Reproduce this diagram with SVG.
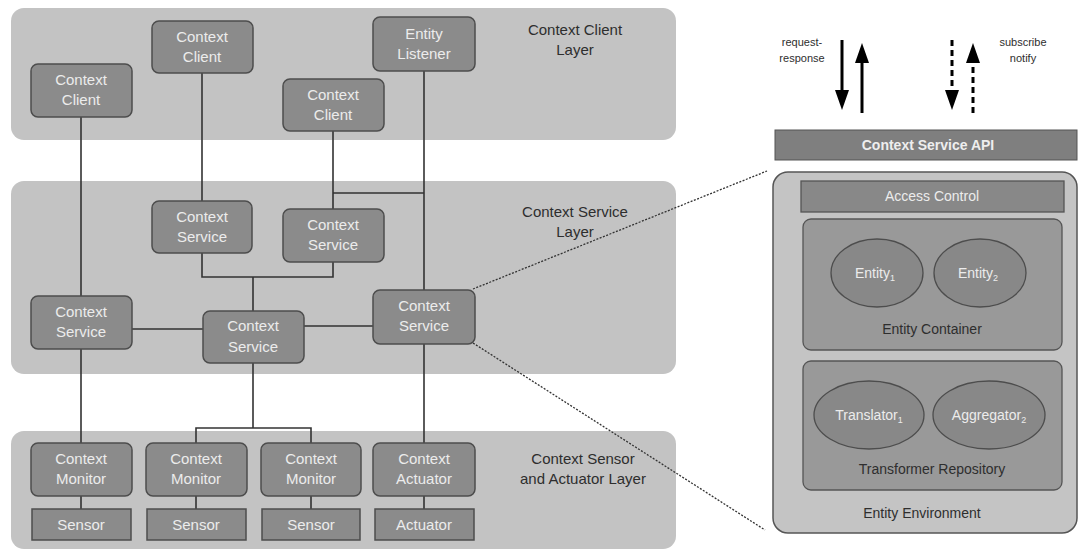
<svg xmlns="http://www.w3.org/2000/svg" width="1080" height="549" viewBox="0 0 1080 549">
<defs>
<style>
.layer{fill:#c3c3c3}
.node{fill:#8b8b8b;stroke:#4d4d4d;stroke-width:1.5}
.nt{font-family:"Liberation Sans",Arial,sans-serif;font-size:15px;fill:#ececec;text-anchor:middle}
.lt{font-family:"Liberation Sans",Arial,sans-serif;font-size:15px;fill:#2e2e2e;text-anchor:middle}
.st{font-family:"Liberation Sans",Arial,sans-serif;font-size:11px;fill:#2e2e2e;text-anchor:middle}
.conn{stroke:#333;stroke-width:1.6;fill:none}
.dot{stroke:#333;stroke-width:1.3;stroke-dasharray:2 1.5;fill:none}
.arr{stroke:#000;stroke-width:3;fill:none}
.arrd{stroke:#000;stroke-width:3;fill:none;stroke-dasharray:6 4}
.box{fill:#999;stroke:#555;stroke-width:1.3}
.ell{fill:#888;stroke:#4d4d4d;stroke-width:1.3}
</style>
<marker id="hd" viewBox="0 0 20 14" refX="0" refY="7" markerWidth="20" markerHeight="14" markerUnits="userSpaceOnUse" orient="auto"><path d="M0,0 L20,7 L0,14 Z" fill="#000"/></marker>
</defs>
<rect width="1080" height="549" fill="#fff"/>

<g id="layers">
<rect class="layer" x="11" y="8" width="665" height="132" rx="13"/>
<rect class="layer" x="11" y="181" width="665" height="193" rx="13"/>
<rect class="layer" x="11" y="431" width="665" height="118" rx="13"/>
<text class="lt" x="575" y="35">Context Client</text>
<text class="lt" x="575" y="55">Layer</text>
<text class="lt" x="575" y="217">Context Service</text>
<text class="lt" x="575" y="237">Layer</text>
<text class="lt" x="583" y="464">Context Sensor</text>
<text class="lt" x="583" y="484">and Actuator Layer</text>
</g>

<g id="connectors">
<path class="conn" d="M81,117 V296 M81,349 V443"/>
<path class="conn" d="M202,73 V201"/>
<path class="conn" d="M333,131 V209 M333,193 H424"/>
<path class="conn" d="M424,71 V290"/>
<path class="conn" d="M202,253 V277 H333 V262 M253,277 V311"/>
<path class="conn" d="M132,329 H203 M304,326 H373"/>
<path class="conn" d="M424,344 V443"/>
<path class="conn" d="M253,363 V428 M196,443 V428 H311 V443"/>
<path class="conn" d="M81,496 V509 M196,496 V509 M311,496 V509 M424,496 V509"/>
<path class="dot" d="M473,289 L767,171 M473,343 L765,530"/>
</g>

<g id="client1"><rect class="node" x="31" y="64" width="101" height="53" rx="7"/><text class="nt" x="81" y="85">Context</text><text class="nt" x="81" y="105">Client</text></g>
<g id="client2"><rect class="node" x="152" y="21" width="101" height="52" rx="7"/><text class="nt" x="202" y="42">Context</text><text class="nt" x="202" y="62">Client</text></g>
<g id="client3"><rect class="node" x="283" y="79" width="101" height="52" rx="7"/><text class="nt" x="333" y="100">Context</text><text class="nt" x="333" y="120">Client</text></g>
<g id="listener"><rect class="node" x="373" y="17" width="102" height="54" rx="7"/><text class="nt" x="424" y="39">Entity</text><text class="nt" x="424" y="59">Listener</text></g>

<g id="service1"><rect class="node" x="152" y="201" width="100" height="52" rx="7"/><text class="nt" x="202" y="222">Context</text><text class="nt" x="202" y="242">Service</text></g>
<g id="service2"><rect class="node" x="283" y="209" width="101" height="53" rx="7"/><text class="nt" x="333" y="230">Context</text><text class="nt" x="333" y="250">Service</text></g>
<g id="service3"><rect class="node" x="31" y="296" width="101" height="53" rx="7"/><text class="nt" x="81" y="317">Context</text><text class="nt" x="81" y="337">Service</text></g>
<g id="service4"><rect class="node" x="203" y="311" width="101" height="52" rx="7"/><text class="nt" x="253" y="331">Context</text><text class="nt" x="253" y="352">Service</text></g>
<g id="service5"><rect class="node" x="373" y="290" width="102" height="54" rx="7"/><text class="nt" x="424" y="311">Context</text><text class="nt" x="424" y="331">Service</text></g>

<g id="monitor1"><rect class="node" x="31" y="443" width="101" height="53" rx="7"/><text class="nt" x="81" y="464">Context</text><text class="nt" x="81" y="484">Monitor</text></g>
<g id="monitor2"><rect class="node" x="146" y="443" width="101" height="53" rx="7"/><text class="nt" x="196" y="464">Context</text><text class="nt" x="196" y="484">Monitor</text></g>
<g id="monitor3"><rect class="node" x="261" y="443" width="100" height="53" rx="7"/><text class="nt" x="311" y="464">Context</text><text class="nt" x="311" y="484">Monitor</text></g>
<g id="actuatorctx"><rect class="node" x="373" y="443" width="102" height="53" rx="7"/><text class="nt" x="424" y="464">Context</text><text class="nt" x="424" y="484">Actuator</text></g>

<g id="sensor1"><rect class="node" x="32" y="509" width="99" height="31"/><text class="nt" x="81" y="530">Sensor</text></g>
<g id="sensor2"><rect class="node" x="147" y="509" width="99" height="31"/><text class="nt" x="196" y="530">Sensor</text></g>
<g id="sensor3"><rect class="node" x="262" y="509" width="98" height="31"/><text class="nt" x="311" y="530">Sensor</text></g>
<g id="actuator"><rect class="node" x="375" y="509" width="99" height="31"/><text class="nt" x="424" y="530">Actuator</text></g>

<g id="api-arrows">
<text class="st" x="802" y="46">request-</text>
<text class="st" x="802" y="62">response</text>
<line class="arr" x1="842" y1="40" x2="842" y2="90" marker-end="url(#hd)"/>
<line class="arr" x1="862" y1="113" x2="862" y2="63" marker-end="url(#hd)"/>
<line class="arrd" x1="952" y1="40" x2="952" y2="90" marker-end="url(#hd)"/>
<line class="arrd" x1="973" y1="113" x2="973" y2="63" marker-end="url(#hd)"/>
<text class="st" x="1023" y="46">subscribe</text>
<text class="st" x="1023" y="62">notify</text>
</g>

<g id="api"><rect x="775" y="130" width="302" height="30" fill="#7f7f7f" stroke="#555" stroke-width="1"/><text x="928" y="150" font-family="Liberation Sans,Arial,sans-serif" font-size="14" font-weight="bold" fill="#eee" text-anchor="middle">Context Service API</text></g>

<g id="env">
<rect x="773" y="172" width="304" height="361" rx="15" fill="#c4c4c4" stroke="#555" stroke-width="1.5"/>
<text class="lt" x="922" y="518" style="font-size:14px">Entity Environment</text>
</g>
<g id="access"><rect x="801" y="181" width="263" height="31" fill="#888" stroke="#555" stroke-width="1.3"/><text class="nt" x="932" y="201" style="font-size:14px">Access Control</text></g>
<g id="container">
<rect class="box" x="803" y="219" width="259" height="131" rx="8"/>
<ellipse class="ell" cx="877" cy="273" rx="46" ry="34"/>
<text class="nt" x="875" y="278" style="font-size:14px">Entity<tspan font-size="9" dy="3">1</tspan></text>
<ellipse class="ell" cx="980" cy="273" rx="46" ry="34"/>
<text class="nt" x="978" y="278" style="font-size:14px">Entity<tspan font-size="9" dy="3">2</tspan></text>
<text class="lt" x="932" y="334" style="font-size:14px">Entity Container</text>
</g>
<g id="repository">
<rect class="box" x="803" y="361" width="259" height="129" rx="8"/>
<ellipse class="ell" cx="869" cy="415" rx="55" ry="34"/>
<text class="nt" x="869" y="420" style="font-size:14px">Translator<tspan font-size="9" dy="3">1</tspan></text>
<ellipse class="ell" cx="989" cy="415" rx="56" ry="34"/>
<text class="nt" x="989" y="420" style="font-size:14px">Aggregator<tspan font-size="9" dy="3">2</tspan></text>
<text class="lt" x="932" y="474" style="font-size:14px">Transformer Repository</text>
</g>
</svg>
